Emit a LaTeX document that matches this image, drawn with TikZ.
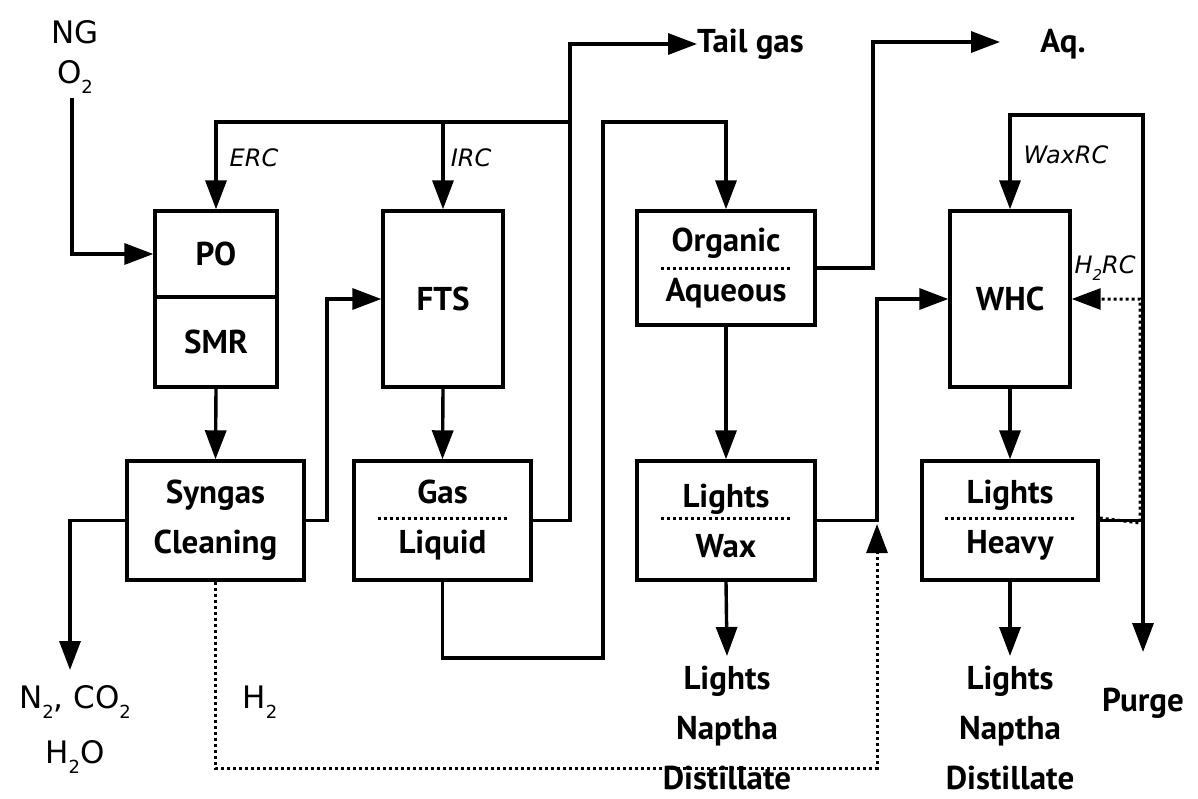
\documentclass[tikz,border=0pt]{standalone}
\usepackage{fontspec}
\setmainfont{PT Sans}
\newfontfamily\dvs{DejaVu Sans}
\usetikzlibrary{arrows.meta}
\newcommand\mysb[1]{\raisebox{-0.32em}{\fontsize{18}{18}\selectfont #1}}
\begin{document}
\begin{tikzpicture}[x=1pt,y=-1pt,
  lw/.style={line width=3.4pt},
  arr/.style={lw,-{Triangle[length=29pt,width=21pt]}},
  dotl/.style={line width=3pt,dash pattern=on 3pt off 3pt},
  blk/.style={draw,lw,inner sep=0pt,font=\bfseries\fontsize{33}{50}\selectfont,align=center},
  lab/.style={inner sep=0pt,font=\bfseries\fontsize{33}{50}\selectfont,align=center},
  dlab/.style={inner sep=0pt,font=\dvs\fontsize{31}{56}\selectfont,align=center},
  rc/.style={inner sep=0pt,font=\dvs\itshape\fontsize{24}{24}\selectfont}]
\useasboundingbox (0,0) rectangle (1198,798);
% boxes
\node[blk,minimum width=122pt,minimum height=86pt] (po) at (216,254) {PO};
\node[blk,minimum width=122pt,minimum height=90pt] (smr) at (216,342) {SMR};
\node[blk,minimum width=120pt,minimum height=176pt] (fts) at (443,299) {FTS};
\node[blk,minimum width=178pt,minimum height=114pt] (org) at (726,268) {Organic\\Aqueous};
\node[blk,minimum width=120pt,minimum height=176pt] (whc) at (1010,299) {WHC};
\node[blk,minimum width=177pt,minimum height=119pt] (syn) at (215.5,520.5) {Syngas\\Cleaning};
\node[blk,minimum width=177pt,minimum height=119pt] (gl) at (442.5,520.5) {Gas\\Liquid};
\node[blk,minimum width=178pt,minimum height=119pt] (lwx) at (726,520.5) {Lights\\Wax};
\node[blk,minimum width=176pt,minimum height=119pt] (lh) at (1010,520.5) {Lights\\Heavy};
% dotted separators
\draw[dotl] ([xshift=-65pt]org.center) -- ([xshift=65pt]org.center);
\draw[dotl] ([xshift=-65pt,yshift=2.5pt]gl.center) -- ([xshift=65pt,yshift=2.5pt]gl.center);
\draw[dotl] ([xshift=-65pt,yshift=2.5pt]lwx.center) -- ([xshift=65pt,yshift=2.5pt]lwx.center);
\draw[dotl] ([xshift=-65pt,yshift=2.5pt]lh.center) -- ([xshift=65pt,yshift=2.5pt]lh.center);
% outer labels
\node[dlab] (ng) at (75,32) {NG};
\node[dlab] (o2) at (75,77) {O\mysb{2}};
\node[dlab] (n2) at (75,702) {N\mysb{2}, CO\mysb{2}};
\node[dlab] (h2o) at (75,757) {H\mysb{2}O};
\node[dlab] (h2) at (260,702) {H\mysb{2}};
\node[lab,anchor=west] (tail) at (697,44) {Tail gas};
\node[lab] (aq) at (1063,44) {Aq.};
\node[lab] (prod1) at (727,728) {Lights\\Naptha\\Distillate};
\node[lab] (prod2) at (1010,728) {Lights\\Naptha\\Distillate};
\node[lab] (purge) at (1143,703) {Purge};
\node[rc] (erc) at (254,158) {ERC};
\node[rc] (irc) at (471,158) {IRC};
\node[rc] (waxrc) at (1066,155) {WaxRC};
\node[rc] (h2rc) at (1105,268) {H\raisebox{-0.3em}{\fontsize{15}{15}\selectfont 2}RC};
% coordinates
\coordinate (o2s) at (72,98);
\coordinate (j1) at (570,122);
\coordinate (b1) at (603,658);
\coordinate (b2) at (603,122);
\coordinate (k1) at (873,42);
\coordinate (aqend) at (1000,42);
\coordinate (k2) at (877,299);
\coordinate (h2a) at (215.5,768);
\coordinate (h2end) at (877,524);
\coordinate (s1) at (327,299);
\coordinate (n2end) at (70,670);
\coordinate (j3) at (1143,520.5);
\coordinate (w1) at (1143,115);
\coordinate (purgeend) at (1143,652);
\coordinate (p1end) at (727,656);
\coordinate (p2end) at (1010,656);
\coordinate (d1) at (1140,523);
\coordinate (d2) at (1140,299);
% connectors
\draw[arr] (o2s) |- (po.west);
\draw[lw] (gl.east) -| (j1);
\draw[arr] (j1) |- (tail.west);
\draw[arr] (j1) -| (po.north);
\draw[arr] (j1) -| (fts.north);
\draw[arr] (gl.south) |- (b1) -- (b2) -| (org.north);
\draw[arr] (org.east) -| (k1) -- (aqend);
\draw[arr] (org.south) -- (lwx.north);
\draw[arr] (lwx.east) -| (k2) -- (whc.west);
\draw[arr] (syn.east) -| (s1) -- (fts.west);
\draw[arr] (syn.west) -| (n2end);
\draw[arr] (smr.south) -- (syn.north);
\draw[arr] (fts.south) -- (gl.north);
\draw[arr] (whc.south) -- (lh.north);
\draw[lw] (lh.east) -- (j3);
\draw[arr] (j3) -- (w1) -| (whc.north);
\draw[arr] (j3) -- (purgeend);
\draw[arr] (lwx.south) -- (p1end);
\draw[arr] (lh.south) -- (p2end);
\draw[dotl,-{Triangle[length=29pt,width=21pt]}] (syn.south) -- (h2a) -| (h2end);
\draw[dotl,-{Triangle[length=29pt,width=21pt]}] ([yshift=2.5pt]lh.east) -- (d1) -- (d2) -- (whc.east);
\end{tikzpicture}
\end{document}
